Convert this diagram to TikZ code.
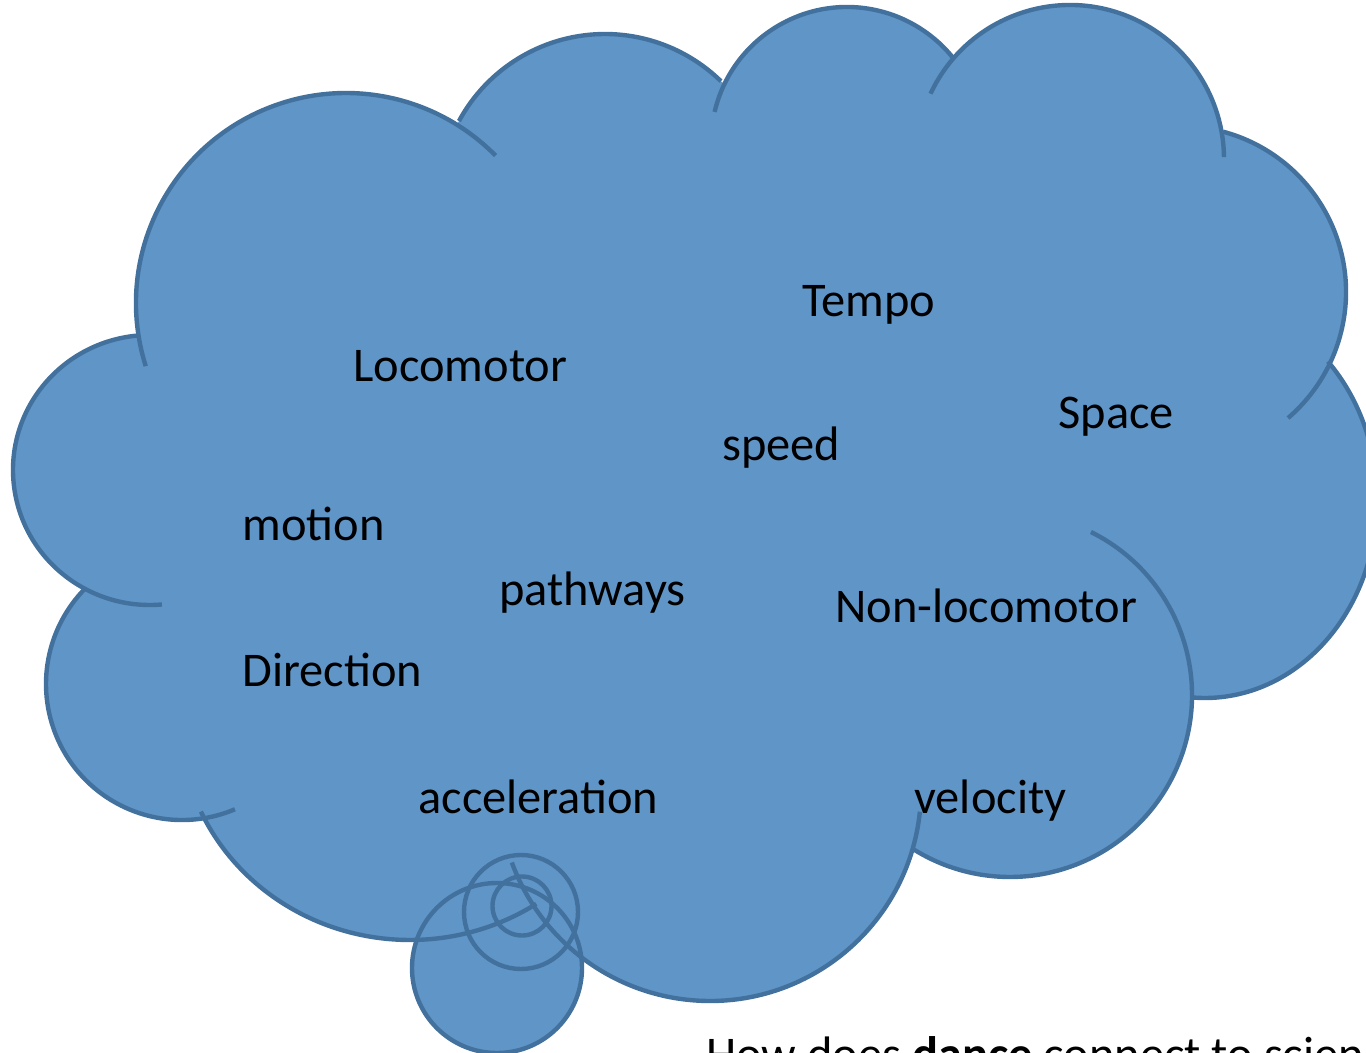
\documentclass[tikz,border=0pt]{standalone}
\usepackage{fontspec}
\setmainfont{Carlito}
\definecolor{cloudfill}{RGB}{96,149,200}
\definecolor{cloudline}{RGB}{67,113,158}
\begin{document}
\begin{tikzpicture}[x=0.5pt,y=-0.5pt,
  edge/.style={draw=cloudline, line width=2.2pt},
  word/.style={anchor=base west, inner sep=0pt, text=black, font=\fontsize{24.2}{29}\selectfont}]
\useasboundingbox (0,0) rectangle (1366,1053);
\clip (0,0) rectangle (1366,1053);
% ---------- fills ----------
\fill[cloudfill] (346,303) -- (605,200) -- (847,143) -- (1070,159) -- (1180,292) -- (1205,500)
  -- (1010,695) -- (710,790) -- (410,720) -- (182,684) -- (150,470) -- cycle;
\fill[cloudfill] (346,303) circle[radius=210];
\fill[cloudfill] (605,200) circle[radius=166];
\fill[cloudfill] (847,143) circle[radius=136];
\fill[cloudfill] (1070,159) circle[radius=154];
\fill[cloudfill] (1180,292) circle[radius=166];
\fill[cloudfill] (1205,500) ellipse[x radius=172, y radius=198];
\fill[cloudfill] (1010,695) circle[radius=182];
\fill[cloudfill] (710,790) circle[radius=211];
\fill[cloudfill] (410,720) ellipse[x radius=230, y radius=220];
\fill[cloudfill] (182,684) circle[radius=136];
\fill[cloudfill] (150,470) ellipse[x radius=137, y radius=135];
\fill[cloudfill] (497,968) circle[radius=85];
\fill[cloudfill] (521,912) circle[radius=57];
\fill[cloudfill] (522,906) circle[radius=29.5];
% ---------- outlines ----------
\draw[edge] ([shift={(162.5:210)}]346,303) arc[start angle=162.5, end angle=315.4, radius=210];
\draw[edge] ([shift={(208.4:166)}]605,200) arc[start angle=208.4, end angle=314.3, radius=166];
\draw[edge] ([shift={(193.2:136)}]847,143) arc[start angle=193.2, end angle=322.2, radius=136];
\draw[edge] ([shift={(205.1:154)}]1070,159) arc[start angle=205.1, end angle=359.3, radius=154];
\draw[edge] ([shift={(285:166)}]1180,292) arc[start angle=285, end angle=409.4, radius=166];
\draw[edge] ([shift={(-44.4:172 and 198)}]1205,500) arc[start angle=-44.4, end angle=94, x radius=172, y radius=198];
\draw[edge] ([shift={(-63.6:182)}]1010,695) arc[start angle=-63.6, end angle=121.8, radius=182];
\draw[edge] ([shift={(5.9:211)}]710,790) arc[start angle=5.9, end angle=159.9, radius=211];
\draw[edge] ([shift={(56.7:230 and 220)}]410,720) arc[start angle=56.7, end angle=155.4, x radius=230, y radius=220];
\draw[edge] ([shift={(67.1:136)}]182,684) arc[start angle=67.1, end angle=224.4, radius=136];
\draw[edge] ([shift={(85:137 and 135)}]150,470) arc[start angle=85, end angle=264.6, x radius=137, y radius=135];
\draw[edge] (497,968) circle[radius=85];
\draw[edge] (521,912) circle[radius=57];
\draw[edge] (522,906) circle[radius=29.5];
% ---------- words ----------
\node[word] (tempo) at (802,317) {Tempo};
\node[word] (loco) at (353,382) {Locomotor};
\node[word] (speed) at (722,461) {speed};
\node[word] (space) at (1058,429) {Space};
\node[word] (motion) at (242,541) {motion};
\node[word] (path) at (499,605) {pathways};
\node[word] (nonloco) at (835,622) {Non-locomotor};
\node[word] (dir) at (242,686) {Direction};
\node[word] (accel) at (418,813) {acceleration};
\node[word] (velo) at (914,813) {velocity};
\node[word] (question) at (706,1070) {How does \textbf{dance} connect to science};
\end{tikzpicture}
\end{document}
